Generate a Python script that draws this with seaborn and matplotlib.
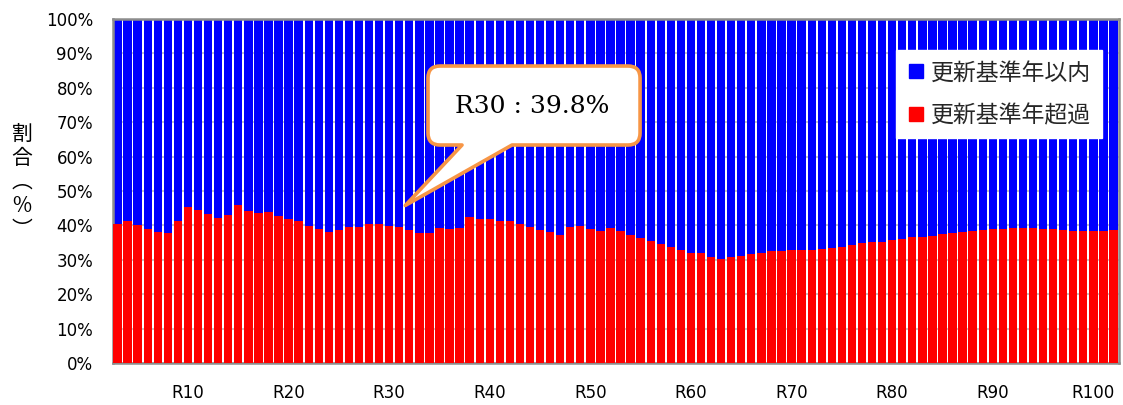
import matplotlib
matplotlib.use("Agg")
import matplotlib.pyplot as plt
import pandas as pd
import seaborn as sns
from matplotlib.path import Path
from matplotlib.patches import PathPatch
from matplotlib.lines import Line2D

# Fiscal years R3 .. R102
years = [f"R{n}" for n in range(3, 103)]

# Share of assets past their renewal standard year (%)
over_pct = [
    40.3, 41.4, 40.1, 39.0, 38.0, 37.8, 41.4, 45.4, 44.4, 43.3,
    42.1, 43.0, 45.8, 44.2, 43.5, 44.0, 42.8, 41.9, 41.3, 39.8,
    39.1, 38.1, 38.7, 39.5, 39.7, 40.5, 40.3, 39.8, 39.7, 38.7,
    37.8, 37.8, 39.2, 39.1, 39.4, 42.6, 42.0, 41.8, 41.3, 41.4,
    40.5, 39.6, 38.7, 38.1, 37.2, 39.5, 39.9, 39.0, 38.4, 39.2,
    38.3, 37.2, 36.4, 35.4, 34.6, 33.9, 32.9, 32.1, 31.9, 31.0,
    30.3, 30.9, 31.3, 31.8, 32.1, 32.5, 32.6, 32.9, 32.9, 33.0,
    33.3, 33.6, 33.9, 34.3, 34.8, 35.1, 35.3, 35.8, 36.1, 36.6,
    36.7, 37.0, 37.4, 37.8, 38.1, 38.3, 38.7, 38.9, 38.9, 39.2,
    39.4, 39.2, 39.0, 38.9, 38.6, 38.3, 38.3, 38.3, 38.3, 38.6,
]

tick_labels = ["R10", "R20", "R30", "R40", "R50", "R60", "R70", "R80", "R90", "R100"]
y_ticks = [0, 10, 20, 30, 40, 50, 60, 70, 80, 90, 100]

label_within = "更新基準年以内"
label_over = "更新基準年超過"
y_label = "割\n合\n︵\n%\n︶"

callout_year = "R30"
callout_value = over_pct[years.index(callout_year)]

BLUE = "#0000FF"
RED = "#FF0000"
ORANGE = "#F79646"
CJK = ["Noto Sans CJK JP", "DejaVu Sans"]

sns.set_theme(style="white")
plt.rcParams["font.family"] = ["DejaVu Sans", "Noto Sans CJK JP"]

fig = plt.figure(figsize=(11.23, 4.05), dpi=100)
ax = fig.add_axes([0.1002, 0.1025, 0.8958, 0.8518])

df = pd.DataFrame({"year": years, "over": over_pct})
df["total"] = 100.0

# 100% stacked bars: full-height blue, red share on top of it
sns.barplot(data=df, x="year", y="total", color=BLUE, saturation=1,
            width=0.83, errorbar=None, linewidth=0, ax=ax, zorder=2)
sns.barplot(data=df, x="year", y="over", color=RED, saturation=1,
            width=0.83, errorbar=None, linewidth=0, ax=ax, zorder=3)

ax.set_xlim(-0.5, len(years) - 0.5)
ax.set_ylim(0, 100)
ax.set_xlabel("")
ax.set_ylabel("")

ax.set_yticks(y_ticks)
ax.set_yticklabels([f"{v}%" for v in y_ticks])
ax.set_xticks([years.index(t) for t in tick_labels])
ax.set_xticklabels(tick_labels)
ax.tick_params(axis="both", length=0, labelsize=12, colors="#000000")
ax.tick_params(axis="y", pad=14)
ax.tick_params(axis="x", pad=15)

ax.yaxis.grid(True, color="#c8c8c8", linewidth=1.5)
ax.set_axisbelow(True)
for sp in ax.spines.values():
    sp.set_color("#8c8c8c")
    sp.set_linewidth(1.8)

# vertical axis title
fig.text(22 / 1123, 1 - 182 / 405, y_label, ha="center", va="center",
         family=CJK, fontsize=15, linespacing=1.12, color="#000000")

# legend
handles = [
    Line2D([], [], marker="s", ls="none", color=BLUE, markersize=9.5),
    Line2D([], [], marker="s", ls="none", color=RED, markersize=9.5),
]
leg = ax.legend(handles, [label_within, label_over], loc="upper right",
                bbox_to_anchor=(0.9836, 0.9087), frameon=True, fancybox=False,
                framealpha=1, facecolor="white", edgecolor="white",
                prop={"family": CJK, "size": 16.5}, handlelength=0.7,
                handletextpad=0.3, labelspacing=0.85, borderpad=0.5,
                borderaxespad=0)
leg.set_zorder(6)

# speech-bubble callout pointing at the highlighted year
x0, x1 = 0.3136, 0.5244
y0, y1 = 0.6333, 0.8623
rx, ry = 12 / 1006, 12 / 345
base_l, base_r = (462 - 112.5) / 1006, (512 - 112.5) / 1006
tip_data = (years.index(callout_year) + 1.6, callout_value + 6)
tip = (ax.transData + ax.transAxes.inverted()).transform(tip_data)

verts = [
    (x0 + rx, y1), (x1 - rx, y1), (x1, y1), (x1, y1 - ry),
    (x1, y0 + ry), (x1, y0), (x1 - rx, y0),
    (base_r, y0), tuple(tip), (base_l, y0),
    (x0 + rx, y0), (x0, y0), (x0, y0 + ry),
    (x0, y1 - ry), (x0, y1), (x0 + rx, y1), (x0 + rx, y1),
]
codes = [
    Path.MOVETO, Path.LINETO, Path.CURVE3, Path.CURVE3,
    Path.LINETO, Path.CURVE3, Path.CURVE3,
    Path.LINETO, Path.LINETO, Path.LINETO,
    Path.LINETO, Path.CURVE3, Path.CURVE3,
    Path.LINETO, Path.CURVE3, Path.CURVE3, Path.CLOSEPOLY,
]
bubble = PathPatch(Path(verts, codes), transform=ax.transAxes, facecolor="white",
                   edgecolor=ORANGE, linewidth=2.6, joinstyle="round",
                   zorder=7, clip_on=False)
ax.add_patch(bubble)
ax.text((x0 + x1) / 2 - 0.002, 0.745, f"{callout_year} : {callout_value}%",
        transform=ax.transAxes, ha="center", va="center",
        family="DejaVu Serif", fontsize=18, color="#000000", zorder=8)

fig.savefig("out.png", dpi=100)
